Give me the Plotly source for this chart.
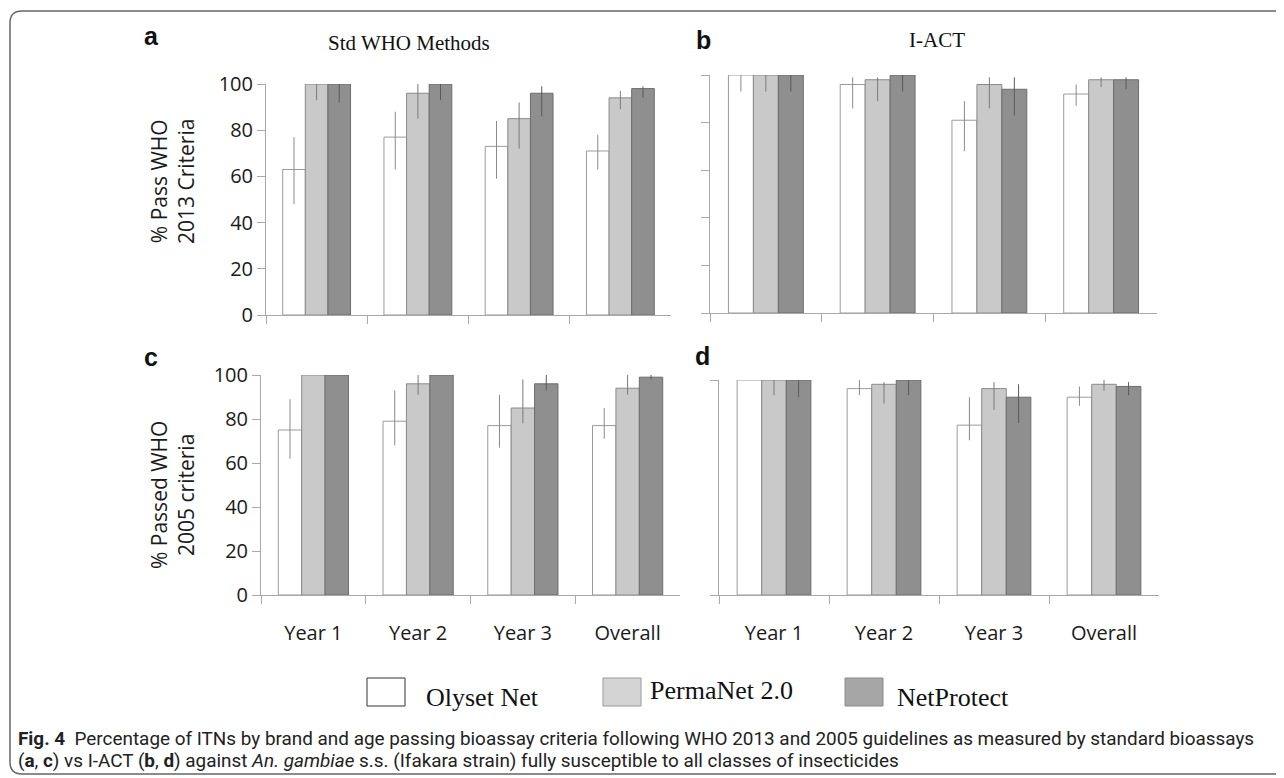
import plotly.graph_objects as go

# The page body adds an 8px offset; the figure is sized to fit the visible window.
OFF = 8
W, H = 1284 - OFF, 778 - OFF

categories = ["Year 1", "Year 2", "Year 3", "Overall"]
brands = ["Olyset Net", "PermaNet 2.0", "NetProtect"]

# Panel a: Std WHO methods, WHO 2013 criteria (value, upper CI, lower CI)
olyset_a = [63, 77, 73, 71]
olyset_a_hi = [77, 88, 84, 78]
olyset_a_lo = [48, 63, 59, 63]
permanet_a = [100, 96, 85, 94]
permanet_a_hi = [100, 100, 92, 97]
permanet_a_lo = [93, 85, 72, 89]
netprotect_a = [100, 100, 96, 98]
netprotect_a_hi = [100, 100, 99, 99]
netprotect_a_lo = [92, 93, 86, 94]

# Panel b: I-ACT, WHO 2013 criteria
olyset_b = [100, 96, 81, 92]
olyset_b_hi = [100, 99, 89, 96]
olyset_b_lo = [93, 86, 68, 87]
permanet_b = [100, 98, 96, 98]
permanet_b_hi = [100, 99, 99, 99]
permanet_b_lo = [93, 89, 86, 95]
netprotect_b = [100, 100, 94, 98]
netprotect_b_hi = [100, 100, 99, 99]
netprotect_b_lo = [93, 93, 83, 94]

# Panel c: Std WHO methods, WHO 2005 criteria
olyset_c = [75, 79, 77, 77]
olyset_c_hi = [89, 93, 91, 85]
olyset_c_lo = [62, 68, 67, 71]
permanet_c = [100, 96, 85, 94]
permanet_c_hi = [100, 100, 98, 100]
permanet_c_lo = [100, 91, 78, 91]
netprotect_c = [100, 100, 96, 99]
netprotect_c_hi = [100, 100, 100, 100]
netprotect_c_lo = [100, 100, 93, 98]

# Panel d: I-ACT, WHO 2005 criteria
olyset_d = [100, 96, 79, 92]
olyset_d_hi = [100, 100, 92, 97]
olyset_d_lo = [100, 93, 72, 88]
permanet_d = [100, 98, 96, 98]
permanet_d_hi = [100, 99, 99, 100]
permanet_d_lo = [93, 89, 86, 95]
netprotect_d = [100, 100, 92, 97]
netprotect_d_hi = [100, 100, 98, 99]
netprotect_d_lo = [92, 93, 80, 93]

y_ticks = [0, 20, 40, 60, 80, 100]

panels = [
    ("x", "y", [(olyset_a, olyset_a_hi, olyset_a_lo), (permanet_a, permanet_a_hi, permanet_a_lo), (netprotect_a, netprotect_a_hi, netprotect_a_lo)]),
    ("x2", "y2", [(olyset_b, olyset_b_hi, olyset_b_lo), (permanet_b, permanet_b_hi, permanet_b_lo), (netprotect_b, netprotect_b_hi, netprotect_b_lo)]),
    ("x3", "y3", [(olyset_c, olyset_c_hi, olyset_c_lo), (permanet_c, permanet_c_hi, permanet_c_lo), (netprotect_c, netprotect_c_hi, netprotect_c_lo)]),
    ("x4", "y4", [(olyset_d, olyset_d_hi, olyset_d_lo), (permanet_d, permanet_d_hi, permanet_d_lo), (netprotect_d, netprotect_d_hi, netprotect_d_lo)]),
]

fills = ["#ffffff", "#c9c9c9", "#8f8f8f"]
outlines = ["#9a9a9a", "#8a8a8a", "#6c6c6c"]
errcols = ["#8a8a8a", "#7a7a7a", "#5a5a5a"]

fig = go.Figure()
for xa, ya, series in panels:
    for i, (vals, hi, lo) in enumerate(series):
        fig.add_trace(go.Bar(
            x=categories, y=vals, name=brands[i], xaxis=xa, yaxis=ya,
            marker=dict(color=fills[i], line=dict(color=outlines[i], width=1)),
            error_y=dict(type="data", symmetric=False,
                         array=[h - v for h, v in zip(hi, vals)],
                         arrayminus=[v - l for v, l in zip(vals, lo)],
                         color=errcols[i], thickness=1, width=0),
            showlegend=False,
        ))

def fx(px):
    return (px - OFF) / W

def fy(py):
    return 1 - (py - OFF) / H

axis_col = "#a8a8a8"
tickfont = dict(family="Open Sans", size=20, color="#1a1a1a")

def xaxis(dom, anchor, labels):
    return dict(domain=[fx(dom[0]), fx(dom[1])], anchor=anchor, type="category",
                showline=True, linecolor=axis_col, linewidth=1,
                ticks="outside", tickson="boundaries", ticklen=8, tickcolor=axis_col,
                showticklabels=labels, tickfont=tickfont, ticklabelstandoff=20,
                showgrid=False, zeroline=False, fixedrange=True, automargin=False)

def yaxis(dom, anchor, labels, tickvals):
    return dict(domain=[fy(dom[1]), fy(dom[0])], anchor=anchor, range=[0, 100],
                tickmode="array", tickvals=tickvals,
                showline=True, linecolor=axis_col, linewidth=1,
                ticks="outside", ticklen=8, tickcolor=axis_col,
                showticklabels=labels, tickfont=tickfont,
                showgrid=False, zeroline=False, fixedrange=True, automargin=False)

fig.update_layout(
    width=W, height=H, autosize=False,
    margin=dict(l=0, r=0, t=0, b=0, pad=0),
    paper_bgcolor="white", plot_bgcolor="white",
    barmode="group", bargap=0.33, bargroupgap=0,
    xaxis=xaxis((266, 671), "y", False),
    yaxis=yaxis((84, 315), "x", True, y_ticks),
    xaxis2=xaxis((710, 1157), "y2", False),
    yaxis2=yaxis((75, 313), "x2", False, y_ticks),
    xaxis3=xaxis((261, 680), "y3", True),
    yaxis3=yaxis((375, 595), "x3", True, y_ticks),
    xaxis4=xaxis((719, 1159), "y4", True),
    yaxis4=yaxis((380, 595), "x4", False, [0, 100]),
)

ann = []
letter_font = dict(family="Liberation Sans, Arial", size=25, color="#111")
for txt, x, y in [("a", 151, 36), ("b", 703, 40), ("c", 151, 357), ("d", 702, 356)]:
    ann.append(dict(text="<b>%s</b>" % txt, x=fx(x), y=fy(y), xref="paper", yref="paper",
                    showarrow=False, font=letter_font, xanchor="center", yanchor="middle"))

serif = "Liberation Serif, Times New Roman, serif"
ann.append(dict(text="Std WHO Methods", x=fx(409), y=fy(43), xref="paper", yref="paper",
                showarrow=False, font=dict(family=serif, size=21, color="#111"),
                xanchor="center", yanchor="middle"))
ann.append(dict(text="I-ACT", x=fx(937), y=fy(40), xref="paper", yref="paper",
                showarrow=False, font=dict(family=serif, size=21, color="#111"),
                xanchor="center", yanchor="middle"))

ytitle_font = dict(family="Open Sans", size=21, color="#1a1a1a")
ann.append(dict(text="% Pass WHO<br>2013 Criteria", x=fx(173), y=fy(182), xref="paper", yref="paper",
                showarrow=False, textangle=-90, font=ytitle_font, xanchor="center", yanchor="middle"))
ann.append(dict(text="% Passed WHO<br>2005 criteria", x=fx(172), y=fy(495), xref="paper", yref="paper",
                showarrow=False, textangle=-90, font=ytitle_font, xanchor="center", yanchor="middle"))

# Legend (custom boxes)
shapes = []
leg_boxes = [(367, 405), (603, 641), (845, 883)]
leg_fill = ["#ffffff", "#d4d4d4", "#a6a6a6"]
leg_line = ["#333333", "#9a9a9a", "#8a8a8a"]
leg_text_x = [424, 648, 895]
leg_text_y = [697, 690, 697]
for i in range(3):
    x0, x1 = leg_boxes[i]
    shapes.append(dict(type="rect", xref="paper", yref="paper",
                       x0=fx(x0), x1=fx(x1), y0=fy(706), y1=fy(678),
                       fillcolor=leg_fill[i], line=dict(color=leg_line[i], width=1)))
    ann.append(dict(text=brands[i], x=fx(leg_text_x[i]), y=fy(leg_text_y[i]), xref="paper", yref="paper",
                    showarrow=False, font=dict(family=serif, size=26, color="#111"),
                    xanchor="left", yanchor="middle"))

# Frame
x0, y0, r = 10, 11, 12
xr, yb = 1300, 774
path = "M %f,%f L %f,%f Q %f,%f %f,%f L %f,%f Q %f,%f %f,%f L %f,%f" % (
    fx(xr), fy(y0), fx(x0 + r), fy(y0), fx(x0), fy(y0), fx(x0), fy(y0 + r),
    fx(x0), fy(yb - r), fx(x0), fy(yb), fx(x0 + r), fy(yb), fx(xr), fy(yb))
shapes.append(dict(type="path", xref="paper", yref="paper", path=path,
                   line=dict(color="#666666", width=1.5)))

cap_font = dict(family="Roboto", size=18.9, color="#222")
ann.append(dict(text="<b>Fig. 4</b>  Percentage of ITNs by brand and age passing bioassay criteria following WHO 2013 and 2005 guidelines as measured by standard bioassays",
                x=fx(16), y=fy(738), xref="paper", yref="paper", showarrow=False,
                font=cap_font, xanchor="left", yanchor="middle"))
ann.append(dict(text="(<b>a</b>, <b>c</b>) vs I-ACT (<b>b</b>, <b>d</b>) against <i>An. gambiae</i> s.s. (Ifakara strain) fully susceptible to all classes of insecticides",
                x=fx(16), y=fy(760), xref="paper", yref="paper", showarrow=False,
                font=cap_font, xanchor="left", yanchor="middle"))

fig.update_layout(annotations=ann, shapes=shapes)
fig.write_html("out.html")
